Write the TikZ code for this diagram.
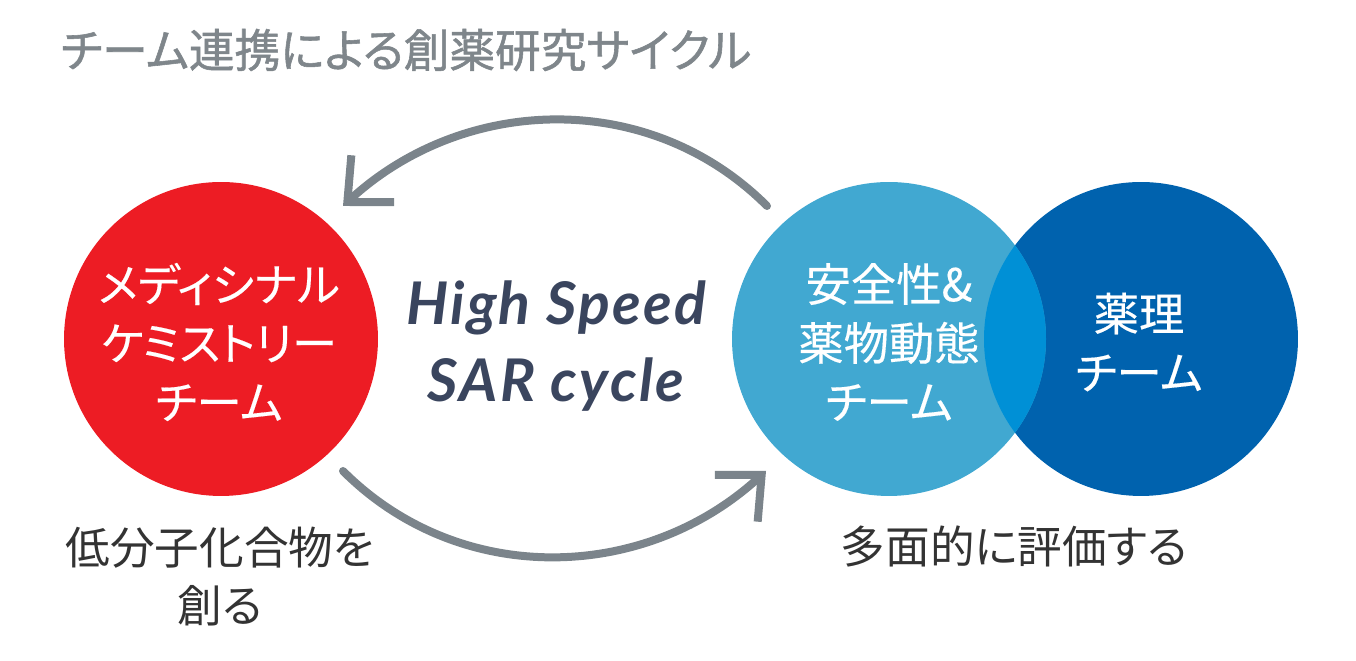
\documentclass[tikz,border=0pt]{standalone}
\usepackage{fontspec}
\setmainfont{Noto Sans CJK JP}[RawFeature=+palt]
\newfontfamily\titlefont{Noto Sans CJK JP}[RawFeature=+palt,FakeBold=1.2]
\newfontfamily\teamfont{Noto Sans CJK JP}[RawFeature=+palt,FakeBold=0.3]
\newfontfamily\cyclefont{Lato}[LetterSpace=4]
\usepackage{tikz}
\usetikzlibrary{arrows.meta}
\definecolor{medred}{HTML}{ED1C24}
\definecolor{safetyblue}{HTML}{41A8D1}
\definecolor{pharmablue}{HTML}{0062AE}
\definecolor{overlapblue}{HTML}{0090D6}
\definecolor{arrowgrey}{HTML}{7B848B}
\definecolor{titlegrey}{HTML}{7F868B}
\definecolor{cycleink}{HTML}{3A455E}
\definecolor{noteink}{HTML}{333333}
\tikzset{
    team/.style={circle,inner sep=0pt,minimum size=6.28cm},
    team text/.style={align=center,text=white,inner sep=0pt,
        font=\teamfont\fontsize{25.8}{33.5}\selectfont},
    note/.style={align=center,text=noteink,inner sep=0pt,
        font=\fontsize{25.4}{33}\selectfont},
    cycle arrow/.style={draw=arrowgrey,line width=.16cm,line cap=round,
        -{Straight Barb[sharp,length=.69cm,width=1.27cm]}},
}
\begin{document}
\begin{tikzpicture}[x=.02cm,y=.02cm]
        \useasboundingbox (0,0) rectangle (1356,661);

        \node[inner sep=0pt, text=titlegrey, font=\titlefont\fontsize{26}{30}\selectfont] (title) at (406,611) {チーム連携による創薬研究サイクル};

        \node[team, fill=medred] (med) at (221,322) {};
        \node[team, fill=pharmablue] (pharma) at (1141,322) {};
        \node[team, fill=safetyblue] (safety) at (889,322) {};

        % overlap of the two blue circles
        \begin{scope}
            \clip (889,322) circle[radius=157];
            \fill[overlapblue] (1141,322) circle[radius=157];
        \end{scope}

        \node[team text] (med label) at (219,319) {メディシナル\\ケミストリー\\チーム};
        \node[team text] (safety label) at (889,319) {安全性\&\\薬物動態\\チーム};
        \node[team text] (pharma label) at (1139,319) {薬理\\チーム};

        \node[align=center, inner sep=0pt, text=cycleink,
            font=\cyclefont\bfseries\itshape\fontsize{33.5}{44}\selectfont] (cycle) at (556,315) {High Speed\\SAR cycle};

        \node[note] (makenote) at (220,84) {低分子化合物を\\創る};
        \node[note] (evalnote) at (1014,114) {多面的に評価する};

        \coordinate (safety out) at (767,455);
        \coordinate (med in) at (343,455);
        \coordinate (med out) at (343,190);
        \coordinate (safety in) at (766,190);

        \draw[cycle arrow] (safety out) to[out=135, in=42.5] (med in);
        \draw[cycle arrow] (med out) to[out=-45, in=-137.5] (safety in);
    \end{tikzpicture}
\end{document}
